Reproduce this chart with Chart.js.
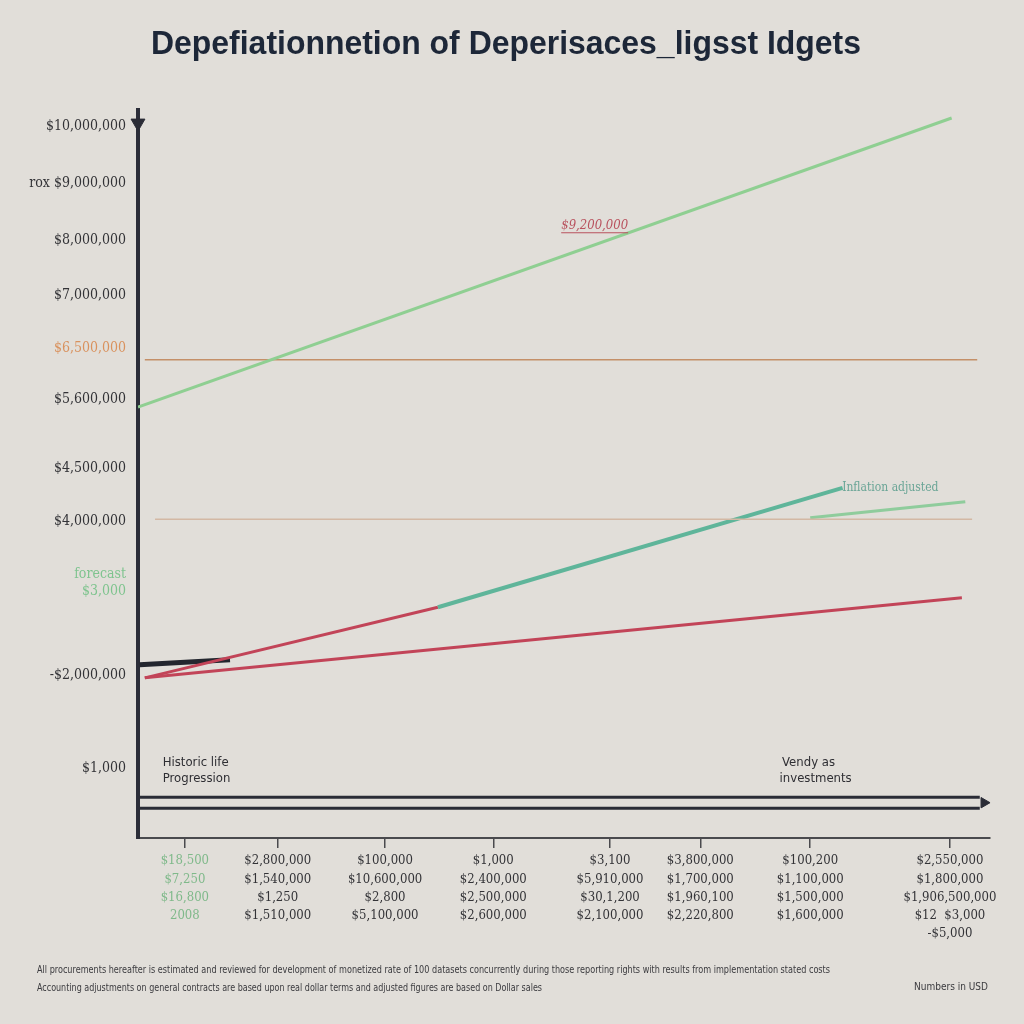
<!DOCTYPE html>
<html>
<head>
<meta charset="utf-8">
<script src="https://cdn.jsdelivr.net/npm/chart.js@4.4.1/dist/chart.umd.min.js"></script>
<style>
  html, body { margin: 0; padding: 0; background: #e1ded9; }
</style>
</head>
<body>
<canvas id="c" width="1024" height="1024"></canvas>
<script>
const titleText = "Depefiationnetion of Deperisaces_ligsst Idgets";

// y axis ticks (value scale 0..100)
const yTickValues = [97.7, 89.9, 82.1, 74.5, 67.3, 60.2, 50.8, 43.5, 35.0, 22.4, 9.5];
const yTickLabels = ["$10,000,000", "rox $9,000,000", "$8,000,000", "$7,000,000", "$6,500,000",
  "$5,600,000", "$4,500,000", "$4,000,000", ["forecast", "$3,000"], "-$2,000,000", "$1,000"];

// x axis ticks (year scale 0..100)
const xTickValues = [5.5, 16.4, 29.0, 41.7, 55.4, 66.0, 78.9, 95.3];
const xTickLabels = [
  ["$18,500", "$7,250", "$16,800", "2008"],
  ["$2,800,000", "$1,540,000", "$1,250", "$1,510,000"],
  ["$100,000", "$10,600,000", "$2,800", "$5,100,000"],
  ["$1,000", "$2,400,000", "$2,500,000", "$2,600,000"],
  ["$3,100", "$5,910,000", "$30,1,200", "$2,100,000"],
  ["$3,800,000", "$1,700,000", "$1,960,100", "$2,220,800"],
  ["$100,200", "$1,100,000", "$1,500,000", "$1,600,000"],
  ["$2,550,000", "$1,800,000", "$1,906,500,000", "$12  $3,000", "-$5,000"]
];

// series
const growthX = [0, 95.5];
const growthY = [59.2, 98.9];
const ceilingX = [0.8, 98.5];
const ceilingY = [65.7, 65.7];
const floorX = [2.0, 97.9];
const floorY = [43.8, 43.8];
const costX = [0.8, 96.7];
const costY = [22.0, 33.0];
const riskX = [0.8, 35.2, 82.7];
const riskY = [22.0, 31.7, 48.1];
const adjustedX = [78.9, 97.1];
const adjustedY = [44.0, 46.2];
const baseX = [0.2, 10.8];
const baseY = [23.8, 24.5];
const timeArrowX = [0.2, 98.8];
const timeArrowUpperY = [5.6, 5.6];
const timeArrowLowerY = [4.1, 4.1];

const pts = (xs, ys) => xs.map((x, i) => ({ x: x, y: ys[i] }));

const bgPlugin = {
  id: "bgcolor",
  beforeDraw: (chart) => {
    const { ctx } = chart;
    ctx.save();
    ctx.fillStyle = "#e1ded9";
    ctx.fillRect(0, 0, chart.width, chart.height);
    ctx.restore();
  }
};

const notes = [
  { x: 53.6, y: 84.1, text: "$9,200,000", color: "#b9525e", font: "italic 13px 'DejaVu Serif Condensed', serif", align: "center", underline: true },
  { x: 88.3, y: 48.1, text: "Inflation adjusted", color: "#6aa596", font: "12px 'DejaVu Serif Condensed', serif", align: "center" },
  { x: 2.9, y: 10.4, text: "Historic life", color: "#2e2e33", font: "13px 'DejaVu Sans Condensed', sans-serif", align: "left" },
  { x: 2.9, y: 8.1, text: "Progression", color: "#2e2e33", font: "13px 'DejaVu Sans Condensed', sans-serif", align: "left" },
  { x: 75.6, y: 10.3, text: "Vendy as", color: "#2e2e33", font: "13px 'DejaVu Sans Condensed', sans-serif", align: "left" },
  { x: 75.3, y: 8.1, text: "investments", color: "#2e2e33", font: "13px 'DejaVu Sans Condensed', sans-serif", align: "left" }
];

const textPlugin = {
  id: "texts",
  afterDraw: (chart) => {
    const { ctx, scales } = chart;
    ctx.save();
    ctx.textBaseline = "middle";
    ctx.fillStyle = "#1d2738";
    ctx.font = "bold 33px 'Liberation Sans', Arial, sans-serif";
    ctx.textAlign = "center";
    ctx.fillText(titleText, 506, 45, 710);

    for (const n of notes) {
      const px = scales.x.getPixelForValue(n.x);
      const py = scales.y.getPixelForValue(n.y);
      ctx.font = n.font;
      ctx.fillStyle = n.color;
      ctx.textAlign = n.align;
      ctx.fillText(n.text, px, py);
      if (n.underline) {
        const w = ctx.measureText(n.text).width;
        ctx.strokeStyle = n.color;
        ctx.lineWidth = 1;
        ctx.beginPath();
        ctx.moveTo(px - w / 2, py + 7);
        ctx.lineTo(px + w / 2, py + 7);
        ctx.stroke();
      }
    }

    ctx.fillStyle = "#3a3a3e";
    ctx.font = "10px 'DejaVu Sans Condensed', sans-serif";
    ctx.textAlign = "left";
    ctx.fillText("All procurements hereafter is estimated and reviewed for development of monetized rate of 100 datasets concurrently during those reporting rights with results from implementation stated costs", 37, 970, 793);
    ctx.fillText("Accounting adjustments on general contracts are based upon real dollar terms and adjusted figures are based on Dollar sales", 37, 988, 505);
    ctx.textAlign = "right";
    ctx.fillText("Numbers in USD", 988, 987, 90);
    ctx.restore();
  }
};

new Chart(document.getElementById("c"), {
  type: "line",
  data: {
    datasets: [
      { label: "Growth", data: pts(growthX, growthY), borderColor: "#8fcf92", borderWidth: 3 },
      { label: "Ceiling", data: pts(ceilingX, ceilingY), borderColor: "#c48f68", borderWidth: 1.5 },
      { label: "Floor", data: pts(floorX, floorY), borderColor: "#d3b8a4", borderWidth: 1.5 },
      { label: "Cost", data: pts(costX, costY), borderColor: "#c24458", borderWidth: 3 },
      { label: "Risk", data: pts(riskX, riskY), borderColor: "#c24458", borderWidth: 3,
        segment: {
          borderColor: c => c.p0DataIndex === 0 ? "#c24458" : "#5fb59a",
          borderWidth: c => c.p0DataIndex === 0 ? 3 : 4
        } },
      { label: "Adjusted", data: pts(adjustedX, adjustedY), borderColor: "#8fcc9c", borderWidth: 3 },
      { label: "Base", data: pts(baseX, baseY), borderColor: "#23262e", borderWidth: 5 },
      { label: "TimeUpper", data: pts(timeArrowX, timeArrowUpperY), borderColor: "#2a2c36", borderWidth: 3 },
      { label: "TimeLower", data: pts(timeArrowX, timeArrowLowerY), borderColor: "#2a2c36", borderWidth: 3 },
      { label: "TimeHead", data: [{ x: 99.3, y: 4.85 }], showLine: false, pointRadius: 6, pointStyle: "triangle",
        rotation: 90, pointBackgroundColor: "#2a2c36", pointBorderColor: "#2a2c36", clip: false },
      { label: "ValueHead", data: [{ x: 0, y: 98.2 }], showLine: false, pointRadius: 8, pointStyle: "triangle",
        rotation: 180, pointBackgroundColor: "#2a2c36", pointBorderColor: "#2a2c36", clip: false }
    ]
  },
  options: {
    responsive: false,
    animation: false,
    elements: { point: { radius: 0 }, line: { tension: 0 } },
    layout: { padding: { top: 110, right: 34, left: 0, bottom: 0 } },
    plugins: { legend: { display: false }, tooltip: { enabled: false } },
    scales: {
      x: {
        type: "linear", min: 0, max: 100,
        afterFit: s => { s.height = 186; },
        afterBuildTicks: s => { s.ticks = xTickValues.map(v => ({ value: v })); },
        grid: { drawOnChartArea: false, drawTicks: true, tickLength: 10, color: "#4a4a4e", lineWidth: 1.5 },
        border: { color: "#4a4a4e", width: 2 },
        ticks: {
          autoSkip: false, maxRotation: 0, padding: 4,
          font: { family: "'DejaVu Serif Condensed', serif", size: 13, lineHeight: 1.4 },
          color: c => c.index === 0 ? "#7fb98a" : "#333337",
          callback: (v, i) => xTickLabels[i]
        }
      },
      y: {
        type: "linear", min: 0, max: 100,
        afterFit: s => { s.width = 138; },
        afterBuildTicks: s => { s.ticks = yTickValues.map(v => ({ value: v })); },
        grid: { display: false },
        border: { color: "#2b2d38", width: 4 },
        ticks: {
          autoSkip: false, padding: 4,
          font: { family: "'DejaVu Serif Condensed', serif", size: 14 },
          color: c => c.index === 4 ? "#d9925e" : (c.index === 8 ? "#7fc48f" : "#333337"),
          callback: (v, i) => yTickLabels[i]
        }
      }
    }
  },
  plugins: [bgPlugin, textPlugin]
});
</script>
</body>
</html>
